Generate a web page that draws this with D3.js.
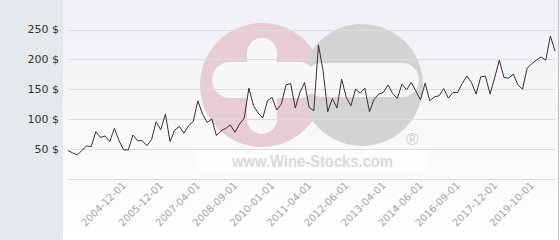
<!DOCTYPE html>
<html>
<head>
<meta charset="utf-8">
<script src="https://cdn.jsdelivr.net/npm/d3@7"></script>
<style>
  body { margin: 0; padding: 0; background: #fff; }
  #chart svg { display: block; }
</style>
</head>
<body>
<div id="chart"></div>
<script>

// monthly price, one value per auction point
var prices = [46.8, 43, 39.6, 47, 54.6, 53.5, 78.6, 69, 71.4, 61.9,
    84, 63.5, 48, 48, 73, 63.5, 63.5, 55, 65, 95,
    82, 108, 62, 81, 87.5, 76, 88.6, 95.8, 130.4, 108,
    94, 100, 72, 80, 84, 90, 77.4, 91.5, 101.5, 151.7,
    122, 110, 101.5, 130.4, 136, 114.9, 125, 157, 159.4, 118.2,
    144.3, 161, 119.2, 113.7, 224, 180.6, 112, 134.3, 118.2, 166.7,
    136, 122, 150, 143.3, 151.7, 112, 133, 141.6, 144.3, 157,
    142.6, 134.3, 158.4, 148.8, 161, 147, 132, 160, 130.4, 137,
    138.8, 151, 135, 144.3, 144.3, 159.4, 172, 161, 141.6, 170.6,
    171.7, 141.6, 169.4, 198.5, 169.4, 168.4, 175, 157, 150, 185,
    192.8, 198.5, 204, 198.5, 239, 214];

// x labels shown every 8th point
var dateLabels = ["2004-12-01", "2005-12-01", "2007-04-01", "2008-09-01",
    "2010-01-01", "2011-04-01", "2012-06-01", "2013-04-01",
    "2014-06-01", "2016-09-01", "2017-12-01", "2019-10-01"];
var labelIndex = [12, 20, 28, 36, 44, 52, 60, 68, 76, 84, 92, 100];

var yTicks = [50, 100, 150, 200, 250];
var gridValues = [0, 50, 100, 150, 200, 250];


priceChart = function(_parentElement){
    this.parentElement = _parentElement;
    this.initVis();
}

priceChart.prototype.initVis = function() {
    var vis = this;

    vis.width = 560;
    vis.height = 240;
    vis.panel = 63;

    vis.svg = d3.select("#" + vis.parentElement).append("svg")
        .attr("width", vis.width)
        .attr("height", vis.height);

    var grad = vis.svg.append("defs").append("linearGradient")
        .attr("id", "bg").attr("x1", 0).attr("y1", 0).attr("x2", 0).attr("y2", 1);
    grad.append("stop").attr("offset", "0%").attr("stop-color", "#eff0f4");
    grad.append("stop").attr("offset", "100%").attr("stop-color", "#ffffff");

    vis.svg.append("rect")
        .attr("x", vis.panel).attr("y", 0)
        .attr("width", vis.width - vis.panel).attr("height", vis.height)
        .attr("fill", "url(#bg)");

    // left panel holding the y labels
    vis.svg.append("rect")
        .attr("x", 0).attr("y", 0)
        .attr("width", vis.panel).attr("height", vis.height)
        .attr("fill", "#e6e9ec");

    // right border
    vis.svg.append("line")
        .attr("x1", 558.5).attr("x2", 558.5)
        .attr("y1", 0).attr("y2", vis.height)
        .attr("stroke", "#c4c4c4");

    vis.x = d3.scaleLinear().domain([0, prices.length - 1]).range([68, 555]);
    vis.y = d3.scaleLinear().domain([0, 250]).range([178.5, 29.5]);

    vis.drawWatermark();
}

priceChart.prototype.drawWatermark = function() {
    var vis = this;
    var wm = vis.svg.append("g").attr("class", "watermark");

    wm.append("circle").attr("cx", 262).attr("cy", 85).attr("r", 62)
        .attr("fill", "#e8ccd4");
    wm.append("circle").attr("cx", 362).attr("cy", 85).attr("r", 61)
        .attr("fill", "#d3d3d5");

    // plus
    wm.append("rect").attr("x", 247).attr("y", 38).attr("width", 30).attr("height", 96)
        .attr("rx", 15).attr("fill", "#f7f7f9");
    wm.append("rect").attr("x", 212).attr("y", 62).attr("width", 105).attr("height", 36)
        .attr("rx", 18).attr("fill", "#f7f7f9");
    // minus
    wm.append("rect").attr("x", 305).attr("y", 63).attr("width", 114).attr("height", 34)
        .attr("rx", 17).attr("fill", "#f7f7f9");

    wm.append("rect").attr("x", 197).attr("y", 150).attr("width", 230).attr("height", 23)
        .attr("fill", "#ffffff").attr("opacity", 0.6);

    wm.append("text")
        .attr("x", 232).attr("y", 167)
        .attr("textLength", 161)
        .attr("lengthAdjust", "spacingAndGlyphs")
        .style("font-family", "'Liberation Sans', Arial, sans-serif")
        .style("font-weight", "bold")
        .style("font-size", "16px")
        .attr("fill", "#dadada")
        .text("www.Wine-Stocks.com");

    wm.append("text")
        .attr("x", 406).attr("y", 145)
        .style("font-family", "'Liberation Sans', Arial, sans-serif")
        .style("font-size", "17px")
        .attr("fill", "#cfcfcf")
        .text("\u00AE");
}

priceChart.prototype.updateVis = function() {
    var vis = this;

    vis.svg.append("g").attr("class", "grid")
        .selectAll("line")
        .data(gridValues)
        .enter().append("line")
        .attr("x1", 68).attr("x2", 555)
        .attr("y1", function(d) { return Math.round(vis.y(d)) + 0.5; })
        .attr("y2", function(d) { return Math.round(vis.y(d)) + 0.5; })
        .attr("stroke", "#dddddf")
        .attr("stroke-width", 1);

    vis.svg.append("g").attr("class", "y-labels")
        .selectAll("text")
        .data(yTicks)
        .enter().append("text")
        .attr("x", 59)
        .attr("y", function(d) { return vis.y(d); })
        .attr("dy", "0.35em")
        .attr("text-anchor", "end")
        .style("font-family", "'DejaVu Sans', sans-serif")
        .style("font-size", "11px")
        .attr("fill", "#333")
        .text(function(d) { return d + " $"; });

    vis.svg.append("g").attr("class", "x-labels")
        .selectAll("text")
        .data(dateLabels)
        .enter().append("text")
        .attr("transform", function(d, i) {
            return "translate(" + (vis.x(labelIndex[i]) + 3) + ",186) rotate(-45)";
        })
        .attr("text-anchor", "end")
        .style("font-family", "'DejaVu Sans', sans-serif")
        .style("font-size", "10px")
        .attr("fill", "#a4a4a4")
        .text(function(d) { return d; });

    var line = d3.line()
        .x(function(d, i) { return vis.x(i); })
        .y(function(d) { return vis.y(d); });

    vis.svg.append("path")
        .datum(prices)
        .attr("d", line)
        .attr("fill", "none")
        .attr("stroke", "#3e2c36")
        .attr("stroke-width", 1)
        .attr("stroke-linejoin", "miter");
}

var chart = new priceChart("chart");
chart.updateVis();

</script>
</body>
</html>
